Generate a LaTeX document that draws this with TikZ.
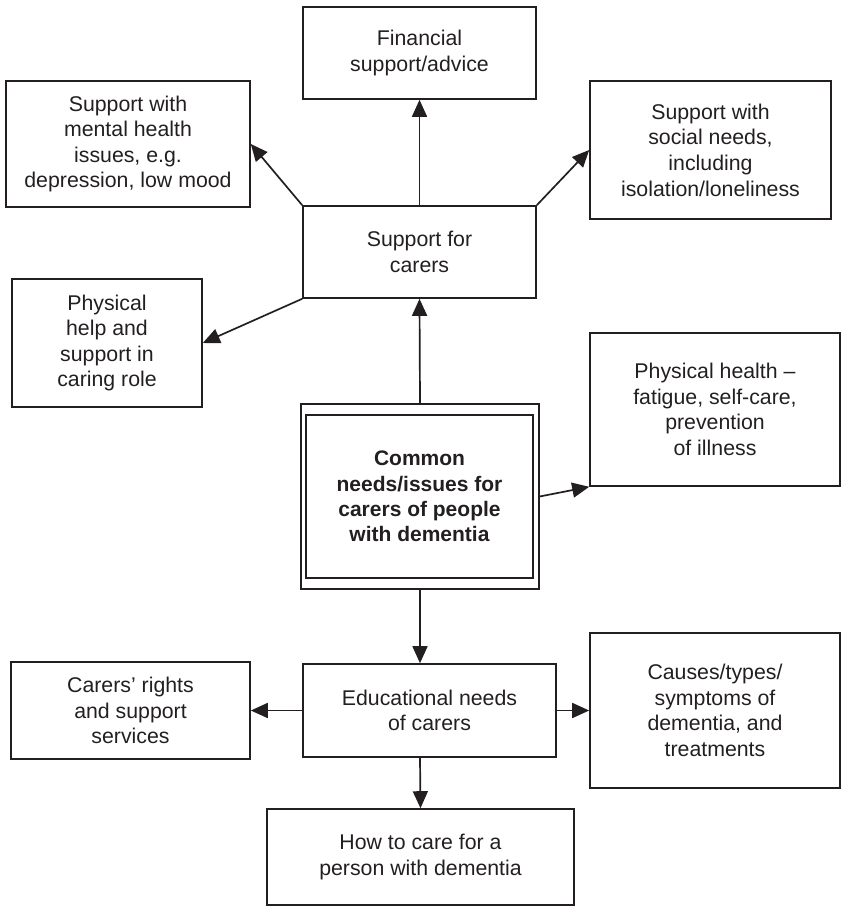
\documentclass[tikz,border=0pt]{standalone}
\usepackage{fontspec}
\setmainfont{Liberation Sans}
\usetikzlibrary{arrows.meta}
\definecolor{ink}{HTML}{231F20}
\begin{document}
\begin{tikzpicture}[x=1pt,y=-1pt,
  box/.style={draw=ink,line width=1.6pt,rectangle,inner sep=0pt,align=center,text=ink,
    font=\fontsize{21.3}{25.6}\selectfont},
  boldbox/.style={box,font=\fontsize{21}{25.3}\selectfont\bfseries},
  arr/.style={draw=ink,line width=1.7pt,-{Triangle[length=17pt,width=15pt]}}]
\useasboundingbox (0,0) rectangle (842,907);
\node[box,minimum width=233pt,minimum height=92pt] (fin) at (419.5,53) {Financial\\support/advice};
\node[box,minimum width=244pt,minimum height=126pt] (mh) at (128,144) {Support with\\mental health\\issues, e.g.\\depression, low mood};
\node[box,minimum width=241pt,minimum height=138pt] (soc) at (710.5,150) {Support with\\social needs,\\including\\isolation/loneliness};
\node[box,minimum width=233pt,minimum height=92pt] (sc) at (419.5,252) {Support for\\carers};
\node[box,minimum width=190pt,minimum height=128pt] (ph) at (107,343) {Physical\\help and\\support in\\caring role};
\node[box,minimum width=250pt,minimum height=153pt] (phh) at (715,409.5) {Physical health --\\fatigue, self-care,\\prevention\\of illness};
\node[box,line width=1.3pt,minimum width=238pt,minimum height=185pt] (common) at (420,496.5) {};
\node[boldbox,minimum width=227pt,minimum height=163pt] (inner) at (419.5,496.5) {Common\\needs/issues for\\carers of people\\with dementia};
\node[box,minimum width=253pt,minimum height=93pt] (edu) at (429.5,710.5) {Educational needs\\of carers};
\node[box,minimum width=239pt,minimum height=97pt] (cr) at (130.5,710.5) {Carers’ rights\\and support\\services};
\node[box,minimum width=250pt,minimum height=155pt] (cau) at (715,710.5) {Causes/types/\\symptoms of\\dementia, and\\treatments};
\node[box,minimum width=307pt,minimum height=96pt] (how) at (420.5,857) {How to care for a\\person with dementia};
\draw[arr] (sc.north) -- (fin.south);
\draw[arr] (sc.north west) -- (mh.east);
\draw[arr] (sc.north east) -- (soc.west);
\draw[arr] (sc.south west) -- (ph.east);
\draw[arr] (common.north) -- (sc.south);
\draw[arr] (common.east) -- (phh.south west);
\draw[arr] (common.south) -- (common.south |- edu.north);
\draw[arr] (edu.west) -- (cr.east);
\draw[arr] (edu.east) -- (cau.west);
\draw[arr] (common.south |- edu.south) -- (how.north);
\end{tikzpicture}
\end{document}
